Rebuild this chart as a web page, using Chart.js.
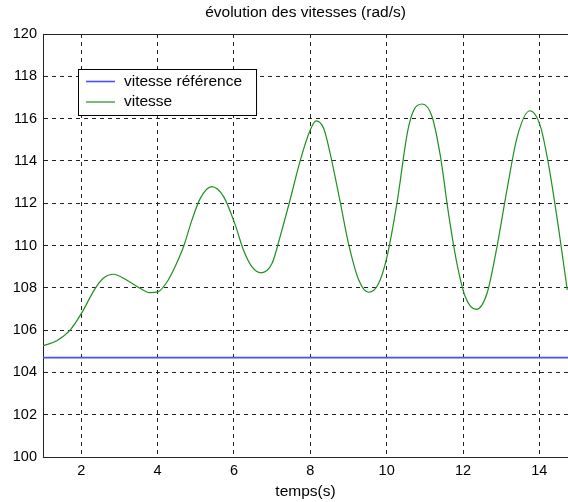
<!DOCTYPE html>
<html>
<head>
<meta charset="utf-8">
<title>évolution des vitesses</title>
<script src="https://cdn.jsdelivr.net/npm/chart.js"></script>
<style>
  body { margin: 0; background: #fff; }
  #speedChart { display: block; }
</style>
</head>
<body>
<canvas id="speedChart" width="568" height="502"></canvas>
<script>
    // values
    const tData = [1.00, 1.36, 1.71, 2.01, 2.36, 2.58, 2.84, 3.19, 3.54, 3.80,
                   4.02, 4.28, 4.50, 4.68, 4.90, 5.12, 5.42, 5.73, 6.03, 6.25,
                   6.47, 6.71, 7.00, 7.21, 7.47, 7.74, 8.00, 8.15, 8.35, 8.52,
                   8.79, 9.00, 9.27, 9.53, 9.79, 10.01, 10.27, 10.55, 10.71, 10.93,
                   11.19, 11.41, 11.62, 11.84, 12.06, 12.35, 12.63, 12.89, 13.15, 13.42,
                   13.75, 14.03, 14.25, 14.51, 14.73];
    const vitesse = [105.25, 105.5, 106.0, 106.8, 107.95, 108.45, 108.64, 108.37, 107.98, 107.77,
                     107.82, 108.37, 109.16, 109.94, 111.2, 112.23, 112.78, 112.31, 111.0, 109.79,
                     109.0, 108.71, 109.16, 110.42, 112.15, 114.04, 115.46, 115.89, 115.54, 114.36,
                     112.0, 110.1, 108.37, 107.79, 108.2, 109.47, 112.0, 115.4, 116.4, 116.69,
                     116.09, 114.2, 111.52, 109.16, 107.58, 106.98, 107.74, 109.94, 112.62, 115.14,
                     116.37, 115.62, 113.73, 110.73, 107.9];
    const tRef = [1, 14.75];
    const vitesseRef = [104.7, 104.7];

    const xTicks = [2, 4, 6, 8, 10, 12, 14];
    const yTicks = [100, 102, 104, 106, 108, 110, 112, 114, 116, 118, 120];

    const seriesLabels = ['vitesse référence', 'vitesse'];

    function toPoints(xs, ys) {
        return xs.map((x, i) => ({x: x, y: ys[i]}));
    }

    const FONT = "'Liberation Sans', Arial, sans-serif";

    // legend box drawn inside the plot, like the matlab one
    const boxLegend = {
        id: 'boxLegend',
        afterDraw(chart) {
            const ctx = chart.ctx;
            const sets = chart.data.datasets;
            ctx.save();
            ctx.font = '15.5px ' + FONT;
            let maxW = 0;
            sets.forEach(ds => { maxW = Math.max(maxW, ctx.measureText(ds.label).width); });
            const x0 = 78, y0 = 69;
            const w = 46 + maxW + 14, h = 46;
            ctx.fillStyle = '#fff';
            ctx.fillRect(x0, y0, w, h);
            ctx.strokeStyle = '#000';
            ctx.lineWidth = 1;
            ctx.strokeRect(x0 + 0.5, y0 + 0.5, w, h);
            sets.forEach((ds, i) => {
                const y = y0 + 12.5 + i * 20.5;
                ctx.strokeStyle = ds.borderColor;
                ctx.lineWidth = ds.borderWidth;
                ctx.beginPath();
                ctx.moveTo(x0 + 8, y);
                ctx.lineTo(x0 + 37, y);
                ctx.stroke();
                ctx.fillStyle = '#000';
                ctx.textBaseline = 'middle';
                ctx.fillText(ds.label, x0 + 46, y);
            });
            ctx.restore();
        }
    };

    new Chart(document.getElementById('speedChart').getContext('2d'), {
        type: 'line',
        data: {
            datasets: [
                { label: seriesLabels[0], data: toPoints(tRef, vitesseRef),
                  borderColor: '#4d4dff', borderWidth: 1.6, pointRadius: 0, fill: false },
                { label: seriesLabels[1], data: toPoints(tData, vitesse),
                  borderColor: '#1f8f1f', borderWidth: 1.2, pointRadius: 0, fill: false,
                  cubicInterpolationMode: 'monotone' }
            ]
        },
        options: {
            responsive: false,
            animation: false,
            devicePixelRatio: 1,
            layout: { padding: 0 },
            plugins: {
                legend: { display: false },
                tooltip: { enabled: false },
                title: { display: false }
            },
            scales: {
                x: {
                    type: 'linear', position: 'bottom', min: 1, max: 14.75,
                    afterBuildTicks: s => { s.ticks = xTicks.map(v => ({value: v})); },
                    afterFit: s => { s.height = 45; },
                    ticks: { color: '#000', font: { family: FONT, size: 14.5 }, padding: 5, maxRotation: 0 },
                    grid: { color: '#222', lineWidth: 1, drawTicks: false },
                    border: { display: true, color: '#222', width: 1, dash: [4, 4] },
                    title: { display: true, text: 'temps(s)', color: '#000',
                             font: { family: FONT, size: 15.5 }, padding: { top: 0, bottom: 1 } }
                },
                x2: {
                    type: 'linear', position: 'top', min: 1, max: 14.75,
                    afterFit: s => { s.height = 34; },
                    ticks: { display: false },
                    grid: { display: false, drawTicks: false },
                    border: { display: true, color: '#222', width: 1 },
                    title: { display: true, text: 'évolution des vitesses (rad/s)', color: '#000',
                             font: { family: FONT, size: 15.5 }, padding: { top: 3, bottom: 0 } }
                },
                y: {
                    min: 100, max: 120,
                    afterBuildTicks: s => { s.ticks = yTicks.map(v => ({value: v})); },
                    afterFit: s => { s.width = 43; },
                    ticks: { color: '#000', font: { family: FONT, size: 14.5 }, padding: 6 },
                    grid: { color: '#222', lineWidth: 1, drawTicks: false },
                    border: { display: true, color: '#222', width: 1, dash: [4, 4] }
                }
            }
        },
        plugins: [boxLegend]
    });
</script>
</body>
</html>
